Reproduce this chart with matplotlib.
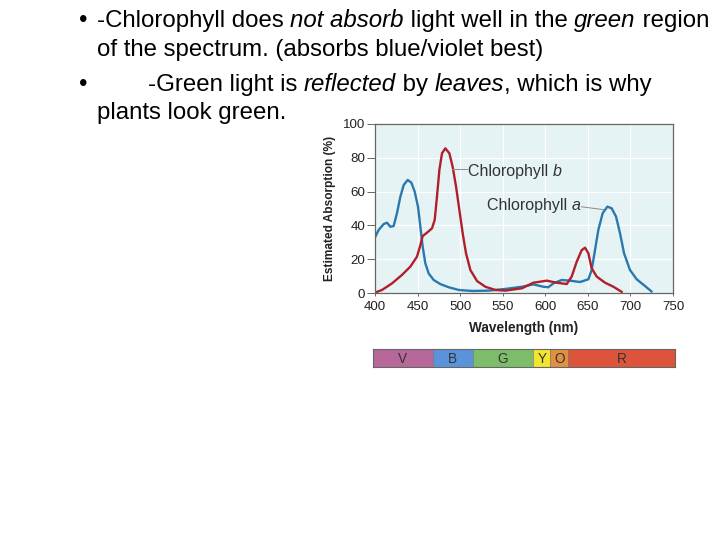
import matplotlib
matplotlib.use("Agg")
import matplotlib.pyplot as plt

# ---- data ----
chl_a_wl = [400, 404.3, 410.2, 414.1, 418, 421.9, 425.8, 429.8, 433.7, 438.4, 442.7, 446.6,
            450.5, 453.3, 456, 459.1, 463, 468.9, 476.7, 486.5, 498.3, 514, 533.5, 553,
            572.7, 586, 597.7, 603.6, 609.5, 619.3, 629, 640.8, 650.6, 654.5, 658.4, 662.3,
            667.4, 672.9, 678, 683.1, 687.8, 692.5, 699.5, 707.4, 717.2, 725]
chl_a_abs = [32.9, 37.3, 40.8, 41.6, 39.2, 39.6, 47.2, 57, 63.9, 66.9, 65.3, 60,
             51.1, 39.2, 27.4, 17.6, 11.6, 7.7, 5.3, 3.4, 1.8, 1.2, 1.4, 2.4,
             3.7, 5.1, 3.7, 3.4, 5.7, 7.7, 7.3, 6.5, 8.1, 13.6, 25.4, 37.3,
             47.2, 51.1, 50.1, 45.2, 35.3, 23.5, 13.6, 8.1, 4.1, 0.8]

chl_b_wl = [400, 408.2, 420, 431.7, 441.5, 449.3, 453.3, 456, 461.1, 467, 470.1, 472.8,
            475.6, 478.7, 482.6, 487.3, 491.2, 495.2, 499.1, 503, 506.9, 512, 519.8,
            529.6, 541.4, 553, 572.7, 586, 601.7, 613.4, 625.2, 631, 636.9, 642.8,
            646.7, 650.6, 654.5, 660.4, 670.2, 680, 690]
chl_b_abs = [0.2, 1.8, 5.7, 10.7, 15.6, 21.5, 28.4, 33.7, 35.7, 38.3, 43.2, 57,
             72.8, 82.7, 85.6, 82.7, 74.7, 62.9, 49.1, 35.3, 23.5, 13.6, 7.1,
             3.7, 1.8, 1.4, 2.8, 6.1, 7.3, 6.1, 5.3, 9.7, 18.5, 25.4,
             26.8, 23.5, 14.6, 9.7, 6.1, 3.7, 0.6]

x_ticks = [400, 450, 500, 550, 600, 650, 700, 750]
y_ticks = [0, 20, 40, 60, 80, 100]

band_labels = ["V", "B", "G", "Y", "O", "R"]
band_edges = [397.3, 468, 515, 586, 606, 627, 752.5]
band_colors = ["#b8679a", "#5b93db", "#7dbd6a", "#f2e530", "#e0903f", "#dc553a"]

FAM = ["Liberation Sans", "DejaVu Sans"]
plt.rcParams["font.family"] = FAM

W, H = 720, 540
fig = plt.figure(figsize=(7.2, 5.4), dpi=100)
fig.patch.set_facecolor("white")

def px_axes(l, t, r, b):
    return fig.add_axes([l / W, 1 - b / H, (r - l) / W, (b - t) / H])

# ---- main chart ----
ax = px_axes(375, 124, 673, 293)
ax.set_facecolor("#e6f3f4")
ax.plot(chl_a_wl, chl_a_abs, color="#2a78ae", lw=1.7, solid_joinstyle="round", solid_capstyle="round")
ax.plot(chl_b_wl, chl_b_abs, color="#b01f2b", lw=1.7, solid_joinstyle="round", solid_capstyle="round")
ax.set_xlim(400, 750)
ax.set_ylim(0, 100)
ax.set_xticks(x_ticks)
ax.set_yticks(y_ticks)
ax.grid(True, color="white", lw=0.8)
ax.set_axisbelow(True)
for s in ax.spines.values():
    s.set_color("#666666")
    s.set_linewidth(0.9)
ax.tick_params(axis="y", labelsize=9.6, colors="#666666", labelcolor="#222222", length=6, width=0.7, pad=1)
ax.tick_params(axis="x", labelsize=9.6, colors="#666666", labelcolor="#222222", length=2.5, width=0.7, pad=3.5)
ax.set_xlabel("Wavelength (nm)", fontsize=9.8, fontweight="bold", color="#222222", labelpad=5.5)
ax.set_ylabel("Estimated Absorption (%)", fontsize=8.6, fontweight="bold", color="#222222", labelpad=5)

fig.canvas.draw()
r = fig.canvas.get_renderer()

LFS = 11.5
tb = ax.text(509.5, 71.8, "Chlorophyll ", fontsize=LFS, color="#333333", va="center", ha="left")
bb = tb.get_window_extent(r)
x_end = ax.transData.inverted().transform((bb.x1, bb.y0))[0]
ax.text(x_end, 71.8, "b", fontsize=LFS, style="italic", color="#333333", va="center", ha="left")
ax.plot([490, 508.5], [73.2, 73.2], color="#8a8a8a", lw=0.7)

ta = ax.text(531.2, 52, "Chlorophyll ", fontsize=LFS, color="#333333", va="center", ha="left")
bb = ta.get_window_extent(r)
x_end = ax.transData.inverted().transform((bb.x1, bb.y0))[0]
ta2 = ax.text(x_end, 52, "a", fontsize=LFS, style="italic", color="#333333", va="center", ha="left")
bb2 = ta2.get_window_extent(r)
x_end2 = ax.transData.inverted().transform((bb2.x1, bb2.y0))[0]
ax.plot([x_end2 + 1.5, 669], [51, 49.3], color="#8a8a8a", lw=0.7)

# ---- spectrum bar ----
bx = px_axes(372.7, 349.3, 675, 367.3)
for i, lab in enumerate(band_labels):
    bx.axvspan(band_edges[i], band_edges[i + 1], color=band_colors[i], lw=0)
    bx.text((band_edges[i] + band_edges[i + 1]) / 2, 0.47, lab, fontsize=9.8,
            color="#333333", ha="center", va="center")
for e in band_edges[1:-1]:
    bx.axvline(e, color="#7a7a7a", lw=0.5)
bx.set_xlim(band_edges[0], band_edges[-1])
bx.set_ylim(0, 1)
bx.set_xticks([])
bx.set_yticks([])
for s in bx.spines.values():
    s.set_color("#666666")
    s.set_linewidth(0.8)

# ---- slide text ----
FS = 17.3

def draw_line(x_px, y_px, segments):
    x = x_px
    for txt, ital in segments:
        t = fig.text(x / W, 1 - y_px / H, txt, fontsize=FS,
                     style="italic" if ital else "normal", color="black",
                     ha="left", va="baseline")
        bb = t.get_window_extent(r)
        x = bb.x1
    return x

fig.text(79 / W, 1 - 27 / H, "•", fontsize=FS, ha="left", va="baseline")
draw_line(97, 27, [("-Chlorophyll does ", False), ("not absorb", True), (" light well in the ", False),
                   ("green", True), (" region", False)])
draw_line(97, 56, [("of the spectrum. (absorbs blue/violet best)", False)])
fig.text(79 / W, 1 - 91 / H, "•", fontsize=FS, ha="left", va="baseline")
draw_line(148, 91, [("-Green light is ", False), ("reflected", True), (" by ", False),
                    ("leaves", True), (", which is why", False)])
draw_line(97, 119, [("plants look green.", False)])

fig.savefig("out.png", dpi=100)
